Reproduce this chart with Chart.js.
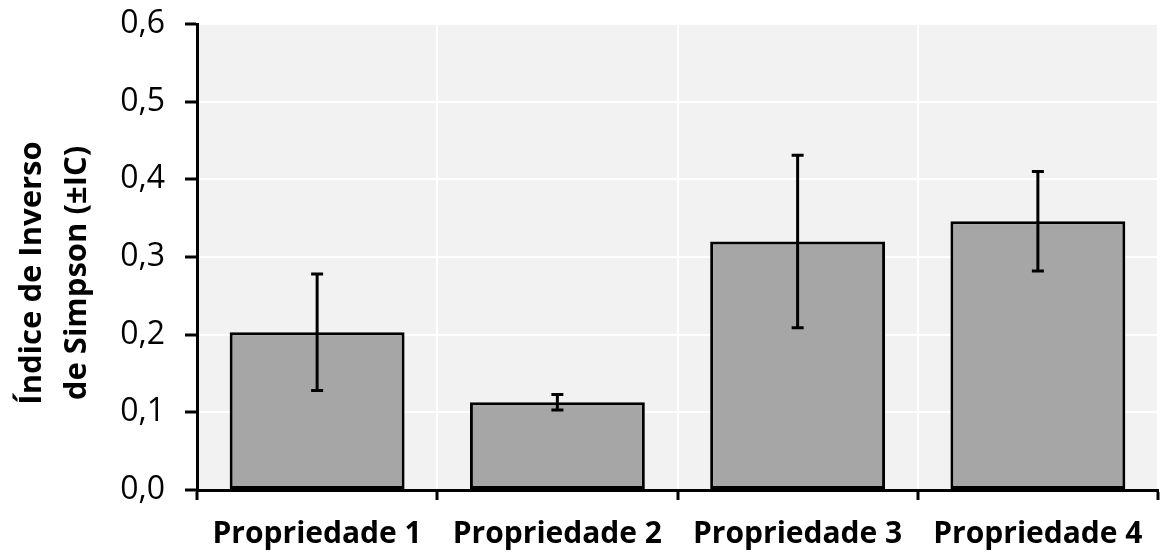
<!DOCTYPE html>
<html>
<head>
<meta charset="utf-8">
<script src="https://cdn.jsdelivr.net/npm/chart.js@4.4.1/dist/chart.umd.min.js"></script>
<style>
  html, body { margin: 0; padding: 0; background: #fff; }
  #wrap { width: 1164px; height: 559px; }
</style>
</head>
<body>
<div id="wrap"><canvas id="myChart"></canvas></div>
<script>
const categorias = ['Propriedade 1', 'Propriedade 2', 'Propriedade 3', 'Propriedade 4']
const valores = [0.203, 0.113, 0.320, 0.346]
const erros = [0.075, 0.010, 0.111, 0.064]
const tituloY = ['Índice de Inverso', 'de Simpson (±IC)']

const fundoPlot = {
  id: 'fundoPlot',
  beforeDraw(chart) {
    const { ctx, chartArea: a } = chart
    ctx.save()
    ctx.fillStyle = '#f2f2f2'
    ctx.fillRect(a.left, a.top, a.right - a.left, a.bottom - a.top)
    ctx.restore()
  }
}

const barrasErro = {
  id: 'barrasErro',
  afterDatasetsDraw(chart) {
    const { ctx } = chart
    const y = chart.scales.y
    const meta = chart.getDatasetMeta(0)
    ctx.save()
    ctx.strokeStyle = '#000'
    ctx.lineWidth = 3
    meta.data.forEach((bar, i) => {
      const x = bar.x
      const top = y.getPixelForValue(valores[i] + erros[i])
      const bot = y.getPixelForValue(valores[i] - erros[i])
      ctx.beginPath()
      ctx.moveTo(x, top); ctx.lineTo(x, bot)
      ctx.moveTo(x - 6, top); ctx.lineTo(x + 6, top)
      ctx.moveTo(x - 6, bot); ctx.lineTo(x + 6, bot)
      ctx.stroke()
    })
    ctx.restore()
  }
}

const tituloEixo = {
  id: 'tituloEixo',
  afterDraw(chart) {
    const { ctx } = chart
    ctx.save()
    ctx.fillStyle = '#000'
    ctx.font = 'bold 31px "Open Sans"'
    ctx.textAlign = 'center'
    ctx.textBaseline = 'middle'
    ctx.translate(0, 273)
    ctx.rotate(-Math.PI / 2)
    ctx.fillText(tituloY[0], 0, 32)
    ctx.fillText(tituloY[1], 0, 77)
    ctx.restore()
  }
}

const ctx = document.getElementById('myChart')

const grafica = new Chart(ctx, {
  type: 'bar',
  data: {
    labels: categorias,
    datasets: [{
      data: valores,
      backgroundColor: '#a6a6a6',
      borderColor: '#000',
      borderWidth: 3,
      borderSkipped: false,
      categoryPercentage: 1,
      barPercentage: 0.728
    }]
  },
  options: {
    responsive: true,
    maintainAspectRatio: false,
    animation: false,
    layout: { padding: { top: 24, right: 6, left: 0, bottom: 0 } },
    plugins: { legend: { display: false }, tooltip: { enabled: false } },
    scales: {
      x: {
        afterFit: s => { s.height = 69; s.paddingLeft = 0; s.paddingRight = 0 },
        grid: {
          color: c => c.index === 0 ? 'rgba(0,0,0,0)' : '#ffffff',
          lineWidth: 2,
          tickColor: '#000',
          tickLength: 10,
          tickWidth: 3
        },
        border: { color: '#000', width: 3 },
        ticks: {
          color: '#000',
          padding: 16,
          maxRotation: 0,
          autoSkip: false,
          font: { family: 'Open Sans', size: 30, weight: 'bold' }
        }
      },
      y: {
        min: 0,
        max: 0.6,
        afterFit: s => { s.width = 197; s.paddingTop = 0; s.paddingBottom = 0 },
        grid: {
          color: c => c.tick && c.tick.value === 0 ? 'rgba(0,0,0,0)' : '#ffffff',
          lineWidth: 2,
          tickColor: '#000',
          tickLength: 12,
          tickWidth: 3
        },
        border: { color: '#000', width: 3 },
        ticks: {
          stepSize: 0.1,
          color: '#000',
          padding: 20,
          font: { family: 'Open Sans', size: 32 },
          callback: v => v.toFixed(1).replace('.', ',')
        }
      }
    }
  },
  plugins: [fundoPlot, barrasErro, tituloEixo]
})
</script>
</body>
</html>
